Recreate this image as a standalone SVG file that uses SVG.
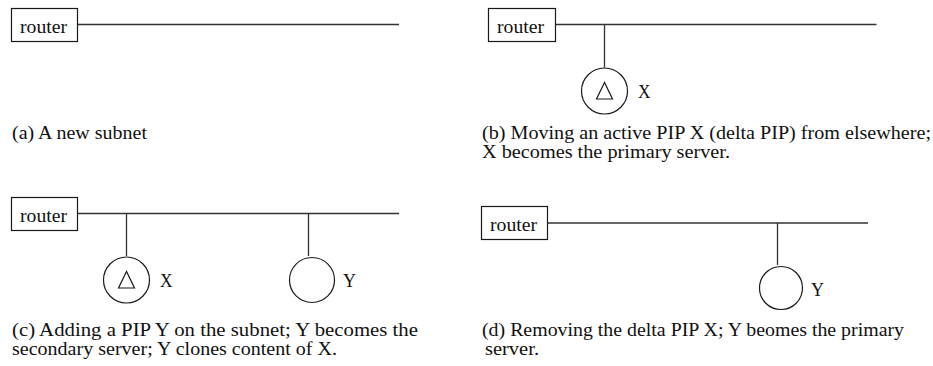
<svg xmlns="http://www.w3.org/2000/svg" width="933" height="366" viewBox="0 0 933 366">
<style>
.bg{fill:#ffffff}
.box{fill:#ffffff;stroke:#1a1a1a;stroke-width:1.2}
.ln{fill:none;stroke:#333333;stroke-width:1.3}
.pip{fill:#ffffff;stroke:#1a1a1a;stroke-width:1.2}
.tri{fill:none;stroke:#1a1a1a;stroke-width:1.2;stroke-linejoin:miter}
text{font-family:"Liberation Serif","Times New Roman",serif;font-size:18px;fill:#111111}
</style>
<rect class="bg" x="0" y="0" width="933" height="366"/>

<g id="connectors">
  <line class="ln" x1="77.5" y1="24.5" x2="399" y2="24.5"/>
  <line class="ln" x1="555.5" y1="24.5" x2="876.5" y2="24.5"/>
  <line class="ln" x1="604.5" y1="24.5" x2="604.5" y2="67.5"/>
  <line class="ln" x1="77.5" y1="213.5" x2="399" y2="213.5"/>
  <line class="ln" x1="126.5" y1="213.5" x2="126.5" y2="256"/>
  <line class="ln" x1="308.5" y1="213.5" x2="308.5" y2="256"/>
  <line class="ln" x1="547.5" y1="223" x2="868" y2="223"/>
  <line class="ln" x1="777.5" y1="223" x2="777.5" y2="265"/>
</g>

<g id="router-a">
  <rect class="box" x="11.5" y="8.5" width="66" height="33"/>
  <text x="20" y="32.5" textLength="47" lengthAdjust="spacingAndGlyphs">router</text>
</g>
<g id="router-b">
  <rect class="box" x="488.5" y="8.5" width="67" height="33"/>
  <text x="497" y="32.5" textLength="47" lengthAdjust="spacingAndGlyphs">router</text>
</g>
<g id="pip-x-b">
  <circle class="pip" cx="604.5" cy="91" r="23"/>
  <polygon class="tri" points="604.5,82.5 596.5,99 612.5,99"/>
  <text x="638" y="98" textLength="12.5" lengthAdjust="spacingAndGlyphs">X</text>
</g>
<g id="router-c">
  <rect class="box" x="11.5" y="197.5" width="66" height="33"/>
  <text x="20" y="221.5" textLength="47" lengthAdjust="spacingAndGlyphs">router</text>
</g>
<g id="pip-x-c">
  <circle class="pip" cx="126.5" cy="280" r="23"/>
  <polygon class="tri" points="126.5,271.5 118.5,288 134.5,288"/>
  <text x="160" y="287" textLength="12.5" lengthAdjust="spacingAndGlyphs">X</text>
</g>
<g id="pip-y-c">
  <circle class="pip" cx="312" cy="280" r="22.5"/>
  <text x="343" y="287" textLength="13" lengthAdjust="spacingAndGlyphs">Y</text>
</g>
<g id="router-d">
  <rect class="box" x="481.5" y="206.5" width="66" height="33"/>
  <text x="490" y="230.5" textLength="47" lengthAdjust="spacingAndGlyphs">router</text>
</g>
<g id="pip-y-d">
  <circle class="pip" cx="781" cy="288" r="21.5"/>
  <text x="811" y="296" textLength="13" lengthAdjust="spacingAndGlyphs">Y</text>
</g>

<g id="captions">
  <text x="12" y="139" textLength="135" lengthAdjust="spacingAndGlyphs">(a) A new subnet</text>
  <text x="482" y="139" textLength="449" lengthAdjust="spacingAndGlyphs">(b) Moving an active PIP X (delta PIP) from elsewhere;</text>
  <text x="482" y="158" textLength="248" lengthAdjust="spacingAndGlyphs">X becomes the primary server.</text>
  <text x="12" y="336" textLength="406" lengthAdjust="spacingAndGlyphs">(c) Adding a PIP Y on the subnet; Y becomes the</text>
  <text x="12" y="355" textLength="325" lengthAdjust="spacingAndGlyphs">secondary server; Y clones content of X.</text>
  <text x="482" y="336" textLength="422" lengthAdjust="spacingAndGlyphs">(d) Removing the delta PIP X; Y beomes the primary</text>
  <text x="485" y="355" textLength="54" lengthAdjust="spacingAndGlyphs">server.</text>
</g>
</svg>
